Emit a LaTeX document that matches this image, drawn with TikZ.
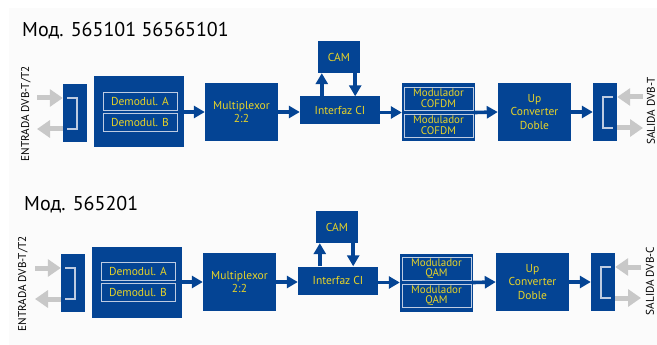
\documentclass[tikz,border=0pt]{standalone}
\usepackage{fontspec}
\setmainfont{PT Sans}
\usetikzlibrary{arrows.meta}
\definecolor{blk}{RGB}{4,68,148}
\definecolor{txt}{RGB}{232,212,40}
\definecolor{rim}{RGB}{190,204,226}
\definecolor{gry}{RGB}{200,200,200}
\definecolor{panel}{RGB}{251,251,251}
\tikzset{
  box/.style={fill=blk,draw=none,text=txt,inner sep=0pt,align=center,
    font=\fontsize{11.5}{13}\selectfont},
  subbox/.style={box,draw=rim,line width=0.9pt},
  modbox/.style={subbox,minimum width=69,minimum height=23,
    font=\fontsize{11}{10.6}\selectfont},
  flow/.style={draw=blk,line width=3.6pt,-{Triangle[length=11pt,width=12pt]}},
  port/.style={draw=gry,line width=5pt,-{Triangle[length=13pt,width=17pt]}},
  brk/.style={draw=rim,line width=1.3pt},
  side/.style={rotate=90,font=\fontsize{11.2}{12}\selectfont,inner sep=0pt},
  title/.style={anchor=base west,inner sep=0pt,font=\fontsize{20}{23}\selectfont}
}
% one processing chain: #1 = name prefix, #2 = modulator label
\newcommand\signalchain[2]{%
  \node[box,minimum width=24,minimum height=58] (#1inL) at (75,113) {};
  \node[box,minimum width=90,minimum height=71] (#1dem) at (139,112) {};
  \node[subbox,minimum width=74,minimum height=18] (#1dA) at (140,101) {Demodul. A};
  \node[subbox,minimum width=74,minimum height=18] (#1dB) at (140,122) {Demodul. B};
  \node[box,minimum width=73,minimum height=58] (#1mux) at (241.5,112) {Multiplexor\\[0.5pt]2:2};
  \node[box,minimum width=80,minimum height=28] (#1ci) at (340,110.5) {Interfaz CI};
  \node[box,minimum width=42,minimum height=32] (#1cam) at (339,57) {CAM};
  \node[box,minimum width=73,minimum height=58] (#1mod) at (438.5,112.5) {};
  \node[modbox] (#1m1) at (438.5,98.5) {Modulador\\#2};
  \node[modbox] (#1m2) at (438.5,125.5) {Modulador\\#2};
  \node[box,minimum width=73,minimum height=58] (#1up) at (534.5,112) {Up\\[0.5pt]Converter\\[0.5pt]Doble};
  \node[box,minimum width=24,minimum height=58] (#1out) at (605,112) {};
  % main signal path
  \draw[flow] (#1dem.east) -- (#1mux.west);
  \draw[flow] (#1mux.east) -- (#1mux.east -| #1ci.west);
  \draw[flow] (#1mod.west -| #1ci.east) -- (#1mod.west);
  \draw[flow] (#1mod.east) -- (#1up.west);
  \draw[flow] (#1up.east) -- (#1out.west);
  % CI <-> CAM
  \coordinate (#1camU) at ([xshift=4]#1cam.south west);
  \coordinate (#1camD) at ([xshift=-5]#1cam.south east);
  \draw[flow] (#1camU |- #1ci.north) -- (#1camU);
  \draw[flow] (#1camD) -- (#1camD |- #1ci.north);
  % input ports
  \coordinate (#1inA) at (37,98);
  \coordinate (#1inB) at (37,129);
  \draw[port] (#1inA) -- (#1inA -| #1inL.west);
  \draw[port] (#1inB -| #1inL.west) -- (#1inB);
  \draw[brk] (67,98) -- (77,98) -- (77,129) -- (67,129);
  % output ports
  \coordinate (#1outA) at (643,97);
  \coordinate (#1outB) at (643,128);
  \draw[port] (#1outA) -- (#1outA -| #1out.east);
  \draw[port] (#1outB -| #1out.east) -- (#1outB);
  \draw[brk] (613,97) -- (603,97) -- (603,128) -- (613,128);
}
\begin{document}
\begin{tikzpicture}[x=1pt,y=-1pt]
  \useasboundingbox (0,0) rectangle (657,345);
  \fill[white] (0,0) rectangle (657,345);
  \fill[panel] (9,8) rectangle (657,345);

  \node[title] (t1) at (22,37) {Мод. 565101 56565101};
  \signalchain{a}{COFDM}
  \node[side] (la1) at (26,114) {ENTRADA DVB-T/T2};
  \node[side] (lb1) at (651,111) {SALIDA DVB-T};

  \node[title] (t2) at (24,210) {Мод. 565201};
  \begin{scope}[shift={(-2,170)}]
    \signalchain{b}{QAM}
  \end{scope}
  \node[side] (la2) at (23,284) {ENTRADA DVB-T/T2};
  \node[side] (lb2) at (650,281) {SALIDA DVB-C};
\end{tikzpicture}
\end{document}
